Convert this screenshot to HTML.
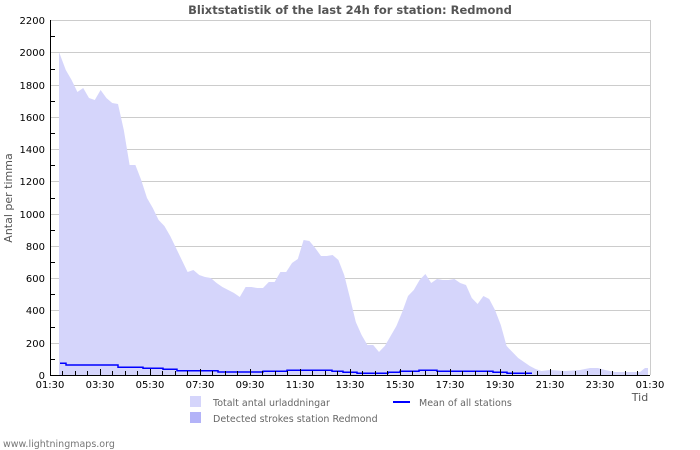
<!DOCTYPE html>
<html><head><meta charset="utf-8"><style>body{margin:0;background:#fff}svg{display:block;font-family:"DejaVu Sans","Liberation Sans",sans-serif}</style></head><body>
<svg width="700" height="450" viewBox="0 0 700 450" xmlns="http://www.w3.org/2000/svg">
<text x="350" y="14" text-anchor="middle" font-size="11.5" font-weight="bold" fill="#555">Blixtstatistik of the last 24h for station: Redmond</text>
<g stroke="#ccc" stroke-width="1">
<line x1="50" y1="20.5" x2="650" y2="20.5"/><line x1="50" y1="52.5" x2="650" y2="52.5"/><line x1="50" y1="85.5" x2="650" y2="85.5"/><line x1="50" y1="117.5" x2="650" y2="117.5"/><line x1="50" y1="149.5" x2="650" y2="149.5"/><line x1="50" y1="181.5" x2="650" y2="181.5"/><line x1="50" y1="214.5" x2="650" y2="214.5"/><line x1="50" y1="246.5" x2="650" y2="246.5"/><line x1="50" y1="278.5" x2="650" y2="278.5"/><line x1="50" y1="310.5" x2="650" y2="310.5"/><line x1="50" y1="343.5" x2="650" y2="343.5"/>
<line x1="650.5" y1="20" x2="650.5" y2="375"/>
</g>
<polygon fill="#d5d5fb" points="59,375 59,52 65.8,70 71.6,80 77.4,92 83.2,88 89,98 94.8,100 100.6,90 106.4,98 112.2,103 118,104 123.8,130 129.6,165 135.4,165 141.2,180 147,198 152.8,208 158.6,220 164.4,226 170.2,236 176,248 181.8,260 187.6,272 193.4,270 199.2,275 205,277 210.8,278 216.6,283 222.4,287 228.2,290 234,293 239.8,297 245.6,287 251.4,287 257.2,288 263,288 268.8,282 274.6,282 280.4,272 286.2,272 292,263 297.8,259 303.6,240 309.4,241 315.2,248 321,256 326.8,256 332.6,255 338.4,260 344.2,275 350,298 355.8,322 361.6,335 367.4,345 373.2,345 379,352 384.8,346 390.6,336 396.4,326 402.2,312 408,296 413.8,290 419.6,280 425.4,274 431.2,283 437,279 442.8,280 448.6,280 454.4,279 460.2,283 466,285 471.8,298 477.6,304 483.4,296 489.2,299 495,310 500.8,325 506.6,346 512.4,352 518.2,358 524,362 529.8,366 535.6,369 541.4,371 550,370 565,371 580,370 590,368 598,368 605,370 615,372 640,372 645,368 648,368 648,375"/>
<polyline fill="none" stroke="#00f" stroke-width="1.5" points="60,363.3 66,363.3 66,365 118,365 118,367.3 143,367.3 143,368.3 163,368.3 163,369.3 177,369.3 177,370.7 218,370.7 218,372 263,372 263,371.3 287,371.3 287,370.3 332,370.3 332,371.3 343,371.3 343,372.3 357,372.3 357,373.3 388,373.3 388,372.3 400,372.3 400,371.3 419,371.3 419,370.3 437,370.3 437,371.3 493,371.3 493,372.3 507,372.3 507,373.3 532,373.3"/>
<g stroke="#000" stroke-width="1">
<line x1="50.5" y1="20" x2="50.5" y2="375"/><line x1="50" y1="375.5" x2="650" y2="375.5"/>
</g>
<g font-size="10" fill="#000" text-anchor="end">
<text x="45" y="24">2200</text><text x="45" y="56">2000</text><text x="45" y="89">1800</text><text x="45" y="121">1600</text><text x="45" y="153">1400</text><text x="45" y="185">1200</text><text x="45" y="218">1000</text><text x="45" y="250">800</text><text x="45" y="282">600</text><text x="45" y="314">400</text><text x="45" y="347">200</text><text x="45" y="379">0</text>
</g>
<g font-size="10" fill="#000" text-anchor="middle">
<text x="50" y="388">01:30</text><text x="100" y="388">03:30</text><text x="150" y="388">05:30</text><text x="200" y="388">07:30</text><text x="250" y="388">09:30</text><text x="300" y="388">11:30</text><text x="350" y="388">13:30</text><text x="400" y="388">15:30</text><text x="450" y="388">17:30</text><text x="500" y="388">19:30</text><text x="550" y="388">21:30</text><text x="600" y="388">23:30</text><text x="650" y="388">01:30</text>
</g>
<text x="640" y="401" font-size="11" fill="#555" text-anchor="middle">Tid</text>
<text transform="translate(12,198) rotate(-90)" font-size="11" fill="#555" text-anchor="middle">Antal per timma</text>
<rect x="190" y="396" width="11" height="11" fill="#d5d5fb"/>
<text x="213" y="406" font-size="9.5" fill="#666">Totalt antal urladdningar</text>
<rect x="190" y="412" width="11" height="11" fill="#b3b3f8"/>
<text x="213" y="422" font-size="9.5" fill="#666">Detected strokes station Redmond</text>
<line x1="393" y1="402" x2="410" y2="402" stroke="#00f" stroke-width="2"/>
<text x="419" y="406" font-size="9.5" fill="#666">Mean of all stations</text>
<text x="3" y="447" font-size="9.5" fill="#777">www.lightningmaps.org</text>
<g stroke="#000" stroke-width="1">
<path d="M51 36.5h4M51 69.5h4M51 101.5h4M51 133.5h4M51 165.5h4M51 198.5h4M51 230.5h4M51 262.5h4M51 294.5h4M51 327.5h4M51 359.5h4"/>
<path d="M62.5 375v-4M75.5 375v-4M87.5 375v-4M100.5 375v-6M112.5 375v-4M125.5 375v-4M137.5 375v-4M150.5 375v-6M162.5 375v-4M175.5 375v-4M187.5 375v-4M200.5 375v-6M212.5 375v-4M225.5 375v-4M237.5 375v-4M250.5 375v-6M262.5 375v-4M275.5 375v-4M287.5 375v-4M300.5 375v-6M312.5 375v-4M325.5 375v-4M337.5 375v-4M350.5 375v-6M362.5 375v-4M375.5 375v-4M387.5 375v-4M400.5 375v-6M412.5 375v-4M425.5 375v-4M437.5 375v-4M450.5 375v-6M462.5 375v-4M475.5 375v-4M487.5 375v-4M500.5 375v-6M512.5 375v-4M525.5 375v-4M537.5 375v-4M550.5 375v-6M562.5 375v-4M575.5 375v-4M587.5 375v-4M600.5 375v-6M612.5 375v-4M625.5 375v-4M637.5 375v-4"/>
</g>
</svg>
</body></html>
